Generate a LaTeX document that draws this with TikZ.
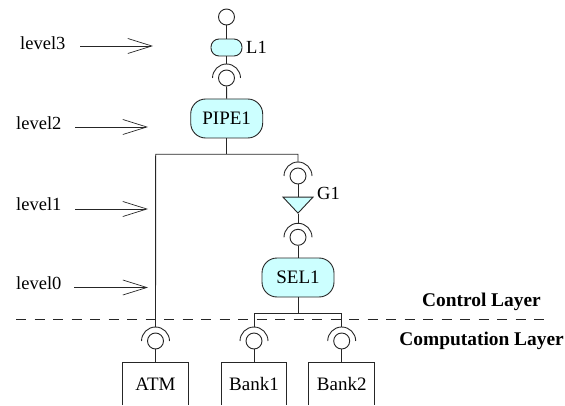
\documentclass[tikz,border=0pt]{standalone}
\usepackage{fontspec}
\setmainfont{Liberation Serif}
\usetikzlibrary{arrows.meta,shapes.geometric}
\definecolor{cellcyan}{HTML}{CCFFFF}
\tikzset{
  wire/.style={draw=black!85,line width=0.9pt},
  port/.style={circle,wire,fill=white,minimum size=16pt,inner sep=0pt},
  cell/.style={wire,fill=cellcyan,rounded corners=15pt,minimum width=72pt,minimum height=39pt,inner sep=0pt},
  bank/.style={wire,minimum width=66pt,inner sep=0pt},
  levelarrow/.style={black!85,line width=0.8pt,-{Straight Barb[length=24pt,width=15pt,line width=0.7pt]}},
  txt/.style={font=\fontsize{18.5}{22}\selectfont,inner sep=0pt},
  celltxt/.style={font=\fontsize{19}{22}\selectfont,inner sep=0pt},
  layer/.style={font=\fontsize{19.4}{22}\selectfont\bfseries,inner sep=0pt}
}
\newcommand{\socket}[3]{%
  \node[port] (#1) at (#2,#3) {};
  \coordinate (#1top) at (#2,#3+14);
  \draw[wire] (#2-14,#3) arc (180:0:14);
}
\begin{document}
\begin{tikzpicture}[x=1pt,y=1pt]
  \useasboundingbox (0,0) rectangle (565,405);
  % levels
  \node[txt,anchor=west] (level3) at (20,362) {level3};
  \node[txt,anchor=west] (level2) at (16,282) {level2};
  \node[txt,anchor=west] (level1) at (16,201) {level1};
  \node[txt,anchor=west] (level0) at (16,122) {level0};
  \coordinate (to3) at (153,359);
  \coordinate (to2) at (148,278);
  \coordinate (to1) at (148,196);
  \coordinate (to0) at (148,117.5);
  \draw[levelarrow] (80,359) -- (to3);
  \draw[levelarrow] (75,278) -- (to2);
  \draw[levelarrow] (75,196) -- (to1);
  \draw[levelarrow] (74,117.5) -- (to0);
  % control part
  \node[port] (top) at (226.5,388) {};
  \node[cell,rounded corners=8pt,minimum width=31pt,minimum height=17pt] (l1) at (226.5,357.5) {};
  \node[txt,anchor=west] (l1label) at (246,358) {L1};
  \socket{s1}{226.5}{327}
  \node[cell,celltxt] (pipe1) at (226.7,286.5) {PIPE1};
  \coordinate (j1) at (226.7,250.7);
  \coordinate (j1l) at (155.7,250.7);
  \coordinate (j1r) at (298,250.7);
  \socket{s2}{298}{229}
  \node[isosceles triangle,shape border rotate=-90,isosceles triangle stretches,wire,fill=cellcyan,
    minimum width=30pt,minimum height=16pt,inner sep=0pt,anchor=apex] (g1) at (298,190.7) {};
  \node[txt,anchor=west] (g1label) at (317,212) {G1};
  \socket{s3}{298}{167.7}
  \node[cell,celltxt] (sel1) at (298,127.5) {SEL1};
  \coordinate (j2) at (298,91.7);
  \coordinate (j2l) at (254,91.7);
  \coordinate (j2r) at (341.7,91.7);
  % layer border
  \draw[black!85,line width=0.6pt,dash pattern=on 10pt off 8.5pt] (16,86) -- (549,86);
  \node[layer,anchor=east] (control) at (541,103) {Control Layer};
  \node[layer,anchor=east] (comp) at (564,64) {Computation Layer};
  % computation part
  \socket{s4}{155.5}{64}
  \socket{s5}{254}{64}
  \socket{s6}{341.7}{64}
  \draw[bank] (122.3,0) |- (188.3,42.3) -- (188.3,0);
  \draw[bank] (221,0) |- (286.7,42.3) -- (286.7,0);
  \draw[bank] (308.7,0) |- (374.3,42.3) -- (374.3,0);
  \coordinate (atmtop) at (155.5,42.3);
  \coordinate (bank1top) at (254,42.3);
  \coordinate (bank2top) at (341.7,42.3);
  \node[celltxt] (atm) at (155.5,21) {ATM};
  \node[celltxt] (bank1) at (254,21) {Bank1};
  \node[celltxt] (bank2) at (341.7,21) {Bank2};
  % wires
  \draw[wire] (top) -- (l1);
  \draw[wire] (l1) -- (s1top);
  \draw[wire] (s1) -- (pipe1);
  \draw[wire] (pipe1) -- (j1);
  \draw[wire] (s2top) |- (j1l) -- (s4top);
  \draw[wire] (s2) -- (g1.lower side);
  \draw[wire] (g1.apex) -- (s3top);
  \draw[wire] (s3) -- (sel1);
  \draw[wire] (sel1) -- (j2);
  \draw[wire] (s5top) |- (j2r) -- (s6top);
  \draw[wire] (s4) -- (atmtop);
  \draw[wire] (s5) -- (bank1top);
  \draw[wire] (s6) -- (bank2top);
\end{tikzpicture}
\end{document}
